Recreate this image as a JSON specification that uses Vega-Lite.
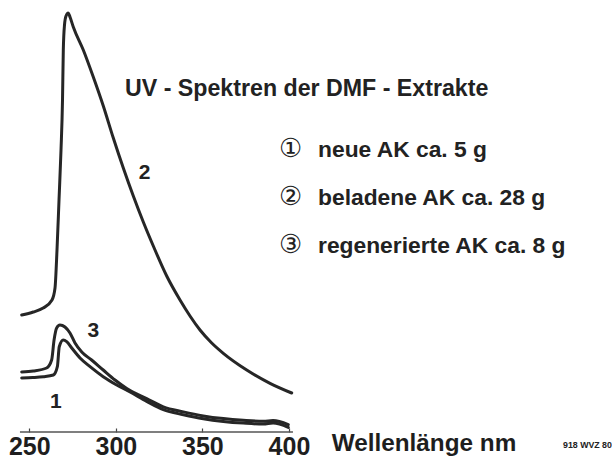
{
  "$schema": "https://vega.github.io/schema/vega-lite/v6.json",
  "width": 612,
  "height": 432,
  "padding": 0,
  "background": "white",
  "config": {"view": {"stroke": null}, "font": "Liberation Sans"},
  "datasets": {
    "spectra": [
      {"curve": "2", "wl": 245.6, "A": 1.17},
      {"curve": "2", "wl": 252.3, "A": 1.20},
      {"curve": "2", "wl": 258.0, "A": 1.24},
      {"curve": "2", "wl": 263.11, "A": 1.32},
      {"curve": "2", "wl": 264.85, "A": 1.44},
      {"curve": "2", "wl": 266.0, "A": 1.82},
      {"curve": "2", "wl": 267.16, "A": 2.32},
      {"curve": "2", "wl": 268.31, "A": 2.82},
      {"curve": "2", "wl": 269.18, "A": 3.32},
      {"curve": "2", "wl": 269.64, "A": 3.82},
      {"curve": "2", "wl": 270.33, "A": 4.07},
      {"curve": "2", "wl": 271.2, "A": 4.16},
      {"curve": "2", "wl": 272.53, "A": 4.19},
      {"curve": "2", "wl": 273.51, "A": 4.15},
      {"curve": "2", "wl": 275.42, "A": 4.05},
      {"curve": "2", "wl": 281.19, "A": 3.82},
      {"curve": "2", "wl": 286.97, "A": 3.55},
      {"curve": "2", "wl": 292.75, "A": 3.26},
      {"curve": "2", "wl": 298.53, "A": 2.94},
      {"curve": "2", "wl": 304.3, "A": 2.64},
      {"curve": "2", "wl": 310.08, "A": 2.36},
      {"curve": "2", "wl": 315.85, "A": 2.10},
      {"curve": "2", "wl": 321.63, "A": 1.86},
      {"curve": "2", "wl": 329.37, "A": 1.56},
      {"curve": "2", "wl": 337.06, "A": 1.32},
      {"curve": "2", "wl": 342.83, "A": 1.16},
      {"curve": "2", "wl": 348.61, "A": 1.02},
      {"curve": "2", "wl": 355.37, "A": 0.89},
      {"curve": "2", "wl": 362.07, "A": 0.787},
      {"curve": "2", "wl": 375.59, "A": 0.62},
      {"curve": "2", "wl": 389.05, "A": 0.487},
      {"curve": "2", "wl": 401.58, "A": 0.39},

      {"curve": "3", "wl": 245.6, "A": 0.60},
      {"curve": "3", "wl": 252.3, "A": 0.61},
      {"curve": "3", "wl": 260.0, "A": 0.64},
      {"curve": "3", "wl": 262.9, "A": 0.72},
      {"curve": "3", "wl": 264.3, "A": 0.92},
      {"curve": "3", "wl": 265.8, "A": 1.04},
      {"curve": "3", "wl": 267.7, "A": 1.07},
      {"curve": "3", "wl": 270.6, "A": 1.05},
      {"curve": "3", "wl": 273.5, "A": 0.99},
      {"curve": "3", "wl": 276.4, "A": 0.89},
      {"curve": "3", "wl": 280.3, "A": 0.80},
      {"curve": "3", "wl": 286.0, "A": 0.72},
      {"curve": "3", "wl": 292.7, "A": 0.62},
      {"curve": "3", "wl": 299.5, "A": 0.52},
      {"curve": "3", "wl": 306.3, "A": 0.435},
      {"curve": "3", "wl": 317.8, "A": 0.334},
      {"curve": "3", "wl": 327.4, "A": 0.251},
      {"curve": "3", "wl": 339.0, "A": 0.201},
      {"curve": "3", "wl": 350.5, "A": 0.161},
      {"curve": "3", "wl": 362.1, "A": 0.134},
      {"curve": "3", "wl": 373.6, "A": 0.117},
      {"curve": "3", "wl": 385.2, "A": 0.107},
      {"curve": "3", "wl": 390.8, "A": 0.115},
      {"curve": "3", "wl": 399.6, "A": 0.074},

      {"curve": "1", "wl": 245.6, "A": 0.54},
      {"curve": "1", "wl": 252.0, "A": 0.545},
      {"curve": "1", "wl": 258.1, "A": 0.553},
      {"curve": "1", "wl": 263.9, "A": 0.57},
      {"curve": "1", "wl": 266.2, "A": 0.653},
      {"curve": "1", "wl": 267.3, "A": 0.853},
      {"curve": "1", "wl": 269.6, "A": 0.92},
      {"curve": "1", "wl": 271.6, "A": 0.903},
      {"curve": "1", "wl": 274.5, "A": 0.84},
      {"curve": "1", "wl": 279.3, "A": 0.74},
      {"curve": "1", "wl": 285.1, "A": 0.653},
      {"curve": "1", "wl": 292.7, "A": 0.553},
      {"curve": "1", "wl": 300.5, "A": 0.47},
      {"curve": "1", "wl": 308.2, "A": 0.40},
      {"curve": "1", "wl": 317.8, "A": 0.306},
      {"curve": "1", "wl": 327.4, "A": 0.223},
      {"curve": "1", "wl": 339.0, "A": 0.173},
      {"curve": "1", "wl": 350.5, "A": 0.133},
      {"curve": "1", "wl": 362.1, "A": 0.106},
      {"curve": "1", "wl": 373.6, "A": 0.089},
      {"curve": "1", "wl": 385.2, "A": 0.079},
      {"curve": "1", "wl": 390.8, "A": 0.089},
      {"curve": "1", "wl": 399.6, "A": 0.046}
    ]
  },
  "encoding": {
    "x": {
      "field": "wl",
      "type": "quantitative",
      "scale": {"domain": [233.07, 586.6], "nice": false, "zero": false},
      "axis": {
        "values": [250, 300, 350, 400],
        "domain": false,
        "grid": false,
        "ticks": true,
        "tickSize": -4,
        "tickWidth": 1.2,
        "tickColor": "#444",
        "labelFontSize": 25,
        "labelFontWeight": "bold",
        "labelColor": "#1e1e1e",
        "labelBaseline": "alphabetic",
        "labelPadding": 26,
        "labelFlush": false,
        "labelOverlap": false,
        "title": null
      }
    },
    "y": {
      "field": "A",
      "type": "quantitative",
      "scale": {"domain": [0, 4.32], "nice": false, "zero": false},
      "axis": null
    }
  },
  "layer": [
    {
      "data": {"values": [{"wl": 244.6, "wl2": 402.3, "A": 0}]},
      "mark": {"type": "rule", "color": "#555", "strokeWidth": 1.4},
      "encoding": {"x2": {"field": "wl2"}}
    },
    {
      "data": {"name": "spectra"},
      "mark": {"type": "line", "interpolate": "monotone", "color": "#262626", "strokeWidth": 3, "strokeCap": "round", "strokeJoin": "round"},
      "encoding": {"detail": {"field": "curve", "type": "nominal"}}
    },
    {
      "data": {"values": [
        {"wl": 316.55, "A": 2.595, "label": "2"},
        {"wl": 286.97, "A": 1.012, "label": "3"},
        {"wl": 265.3, "A": 0.305, "label": "1"}
      ]},
      "mark": {"type": "text", "fontSize": 21, "fontWeight": "bold", "color": "#222", "align": "center", "baseline": "middle"},
      "encoding": {"text": {"field": "label"}}
    },
    {
      "data": {"values": [{"wl": 305.28, "A": 3.36, "label": "UV - Spektren der DMF - Extrakte"}]},
      "mark": {"type": "text", "fontSize": 23.2, "fontWeight": "bold", "color": "#222", "align": "left", "baseline": "alphabetic"},
      "encoding": {"text": {"field": "label"}}
    },
    {
      "data": {"values": [
        {"wl": 400.9, "A": 2.747, "label": "①"},
        {"wl": 400.9, "A": 2.27, "label": "②"},
        {"wl": 400.9, "A": 1.793, "label": "③"}
      ]},
      "mark": {"type": "text", "fontSize": 26, "font": "DejaVu Sans", "color": "#222", "align": "center", "baseline": "alphabetic"},
      "encoding": {"text": {"field": "label"}}
    },
    {
      "data": {"values": [
        {"wl": 416.78, "A": 2.747, "label": "neue AK ca. 5 g"},
        {"wl": 416.78, "A": 2.27, "label": "beladene AK ca. 28 g"},
        {"wl": 416.78, "A": 1.793, "label": "regenerierte AK ca. 8 g"}
      ]},
      "mark": {"type": "text", "fontSize": 22.8, "fontWeight": "bold", "color": "#222", "align": "left", "baseline": "alphabetic"},
      "encoding": {"text": {"field": "label"}}
    },
    {
      "data": {"values": [{"wl": 424.7, "A": -0.187, "label": "Wellenlänge nm"}]},
      "mark": {"type": "text", "fontSize": 24.3, "fontWeight": "bold", "color": "#1e1e1e", "align": "left", "baseline": "alphabetic"},
      "encoding": {"text": {"field": "label"}}
    },
    {
      "data": {"values": [{"wl": 558.3, "A": -0.163, "label": "918 WVZ 80"}]},
      "mark": {"type": "text", "fontSize": 8.8, "fontWeight": "bold", "color": "#222", "align": "left", "baseline": "alphabetic"},
      "encoding": {"text": {"field": "label"}}
    }
  ]
}
